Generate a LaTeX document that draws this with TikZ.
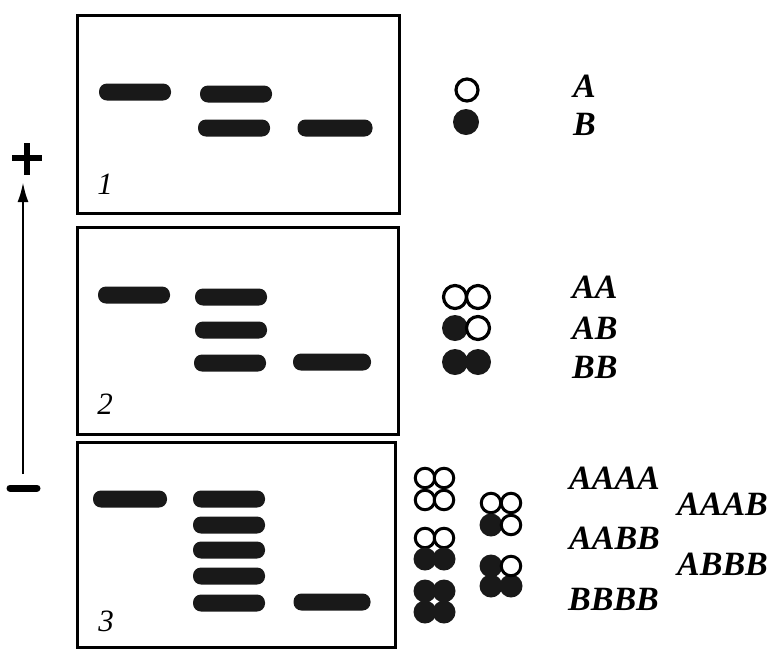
\documentclass[tikz,border=0pt]{standalone}
\usepackage{fontspec}
\setmainfont{Liberation Serif}
\usetikzlibrary{arrows.meta}
\begin{document}
\begin{tikzpicture}[x=1pt,y=-1pt,
  panel/.style={draw=black,line width=3pt},
  band/.style={fill=black!90,rounded corners=8pt,minimum height=17pt,inner sep=0pt},
  oc/.style={circle,draw=black,line width=3.2pt,fill=white,minimum size=22pt,inner sep=0pt},
  fc/.style={circle,fill=black!90,minimum size=26pt,inner sep=0pt},
  tc/.style={circle,draw=black,line width=3pt,fill=white,minimum size=19.5pt,inner sep=0pt},
  tf/.style={circle,fill=black!90,minimum size=23pt,inner sep=0pt},
  lbl/.style={anchor=west,font=\fontsize{34}{36}\selectfont\bfseries\itshape,inner sep=0pt},
  num/.style={font=\fontsize{31}{33}\selectfont\itshape,inner sep=0pt}]
\useasboundingbox (0,0) rectangle (776,649);
% panels
\node[panel,minimum width=322pt,minimum height=198pt,inner sep=0pt] (p1) at (238.5,114) {};
\node[panel,minimum width=321pt,minimum height=207pt,inner sep=0pt] (p2) at (238,330.5) {};
\node[panel,minimum width=318pt,minimum height=205pt,inner sep=0pt] (p3) at (236.5,544.5) {};
% panel numbers
\node[num] (n1) at (105,184) {1};
\node[num] (n2) at (105,404) {2};
\node[num] (n3) at (106,621) {3};
% bands panel 1
\node[band,minimum width=72pt] (b11) at (135,92) {};
\node[band,minimum width=72pt] (b12) at (236,94) {};
\node[band,minimum width=72pt] (b13) at (234,128) {};
\node[band,minimum width=75pt] (b14) at (335,128) {};
% bands panel 2
\node[band,minimum width=72pt] (b21) at (134,295) {};
\node[band,minimum width=72pt] (b22) at (231,297) {};
\node[band,minimum width=72pt] (b23) at (231,330) {};
\node[band,minimum width=72pt] (b24) at (230,363) {};
\node[band,minimum width=78pt] (b25) at (332,362) {};
% bands panel 3
\node[band,minimum width=74pt] (b31) at (130,499) {};
\node[band,minimum width=72pt] (b32) at (229,499) {};
\node[band,minimum width=72pt] (b33) at (229,525) {};
\node[band,minimum width=72pt] (b34) at (229,550) {};
\node[band,minimum width=72pt] (b35) at (229,576) {};
\node[band,minimum width=72pt] (b36) at (229,603) {};
\node[band,minimum width=77pt] (b37) at (332,602) {};
% arrow, plus, minus
\coordinate (ab) at (23,474);
\coordinate (at) at (23,182);
\draw[line width=2.6pt,-{Latex[length=20pt,width=11pt]}] (ab) -- (at);
\draw[line width=6pt] (12,158) -- (42,158) (27,143) -- (27,175);
\draw[line width=7pt,line cap=round] (10,488) -- (37,488);
% panel 1 monomers
\node[oc] (m1) at (467,90) {};
\node[fc] (m2) at (466,122) {};
\node[lbl] (tA) at (573,86) {A};
\node[lbl] (tB) at (573,124) {B};
% panel 2 dimers
\node[oc,minimum size=23pt] (d11) at (455,297) {};
\node[oc,minimum size=23pt] (d12) at (478,297) {};
\node[fc] (d21) at (455,328) {};
\node[oc,minimum size=23pt] (d22) at (478,328) {};
\node[fc] (d31) at (455,362) {};
\node[fc] (d32) at (478,362) {};
\node[lbl] (tAA) at (572,287) {AA};
\node[lbl] (tAB) at (572,328) {AB};
\node[lbl] (tBB) at (572,367) {BB};
% panel 3 tetramers, column 1
\node[tc] (q11) at (425,478) {};
\node[tc] (q12) at (444,478) {};
\node[tc] (q13) at (425,500) {};
\node[tc] (q14) at (444,500) {};
\node[tc] (q21) at (425,538) {};
\node[tc] (q22) at (444,538) {};
\node[tf] (q23) at (425,559) {};
\node[tf] (q24) at (444,559) {};
\node[tf] (q31) at (425,591) {};
\node[tf] (q32) at (444,591) {};
\node[tf] (q33) at (425,612) {};
\node[tf] (q34) at (444,612) {};
% column 2
\node[tc] (r11) at (491,503) {};
\node[tc] (r12) at (511,503) {};
\node[tf] (r13) at (491,525) {};
\node[tc] (r14) at (511,525) {};
\node[tf] (r23) at (491,586) {};
\node[tf] (r24) at (511,586) {};
\node[tf] (r21) at (491,566) {};
\node[tc] (r22) at (511,566) {};
\node[lbl] (tAAAA) at (569,478) {AAAA};
\node[lbl] (tAABB) at (569,538) {AABB};
\node[lbl] (tBBBB) at (568,599) {BBBB};
\node[lbl] (tAAAB) at (677,504) {AAAB};
\node[lbl] (tABBB) at (677,564) {ABBB};
\end{tikzpicture}
\end{document}
